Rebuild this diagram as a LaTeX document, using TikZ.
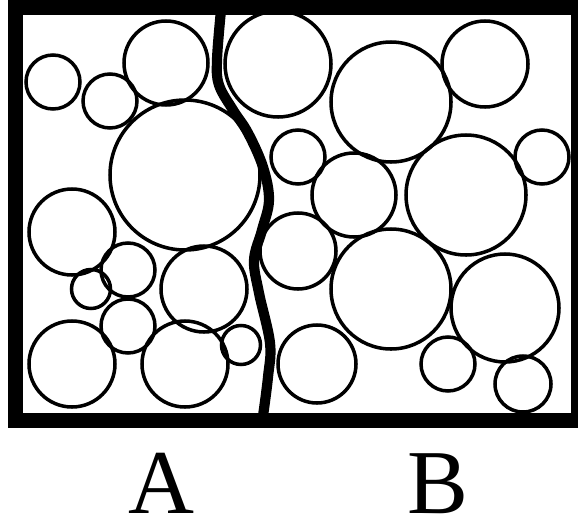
\documentclass[tikz,border=0pt]{standalone}
\usepackage{fontspec}
\setmainfont{Liberation Serif}
\usepackage{tikz}

\tikzset{
  grain/.style={draw=black, line width=2pt},
  wall/.style={draw=black, line width=8.5pt},
  boundary/.style={draw=black, line width=5.8pt, line cap=round},
  side/.style={anchor=base, inner sep=0pt, font=\fontsize{52}{60}\selectfont}
}

\begin{document}
\begin{tikzpicture}[x=0.02cm, y=-0.02cm]

  \useasboundingbox (0,0) rectangle (578,521);

  \coordinate (NW) at (15.5,7.5);
  \coordinate (SE) at (578.5,420.5);

  % grains of side A
  \draw[grain] (53,82) circle (27);
  \draw[grain] (110,101) circle (27);
  \draw[grain] (166,63) circle (42);
  \draw[grain] (185,175) circle (75);
  \draw[grain] (72,232) circle (43);
  \draw[grain] (91,289) circle (19.5);
  \draw[grain] (128,270) circle (27);
  \draw[grain] (204,289) circle (43);
  \draw[grain] (128,326) circle (27);
  \draw[grain] (72,364) circle (43);
  \draw[grain] (185,364) circle (43);
  \draw[grain] (241,345) circle (19.5);

  % grains of side B
  \draw[grain] (278,64) circle (53);
  \draw[grain] (391,102) circle (60);
  \draw[grain] (485,64) circle (43);
  \draw[grain] (298,157) circle (27);
  \draw[grain] (354,195) circle (42);
  \draw[grain] (466,195) circle (60);
  \draw[grain] (542,157) circle (27);
  \draw[grain] (298,251) circle (38);
  \draw[grain] (391,289) circle (60);
  \draw[grain] (505,308) circle (54);
  \draw[grain] (317,364) circle (39);
  \draw[grain] (448,364) circle (27);
  \draw[grain] (523,384) circle (28);

  % grain boundary
  \draw[boundary] plot[smooth, tension=0.6] coordinates {
    (221,10) (217,60) (219,85) (233,110) (248,133) (263,167) (269,200)
    (262,230) (254,260) (259,293) (270,343) (268,377) (263,416)};

  \draw[wall] (NW) rectangle (SE);

  \node[side] (a) at (161,513) {A};
  \node[side] (b) at (438,513) {B};

\end{tikzpicture}
\end{document}
